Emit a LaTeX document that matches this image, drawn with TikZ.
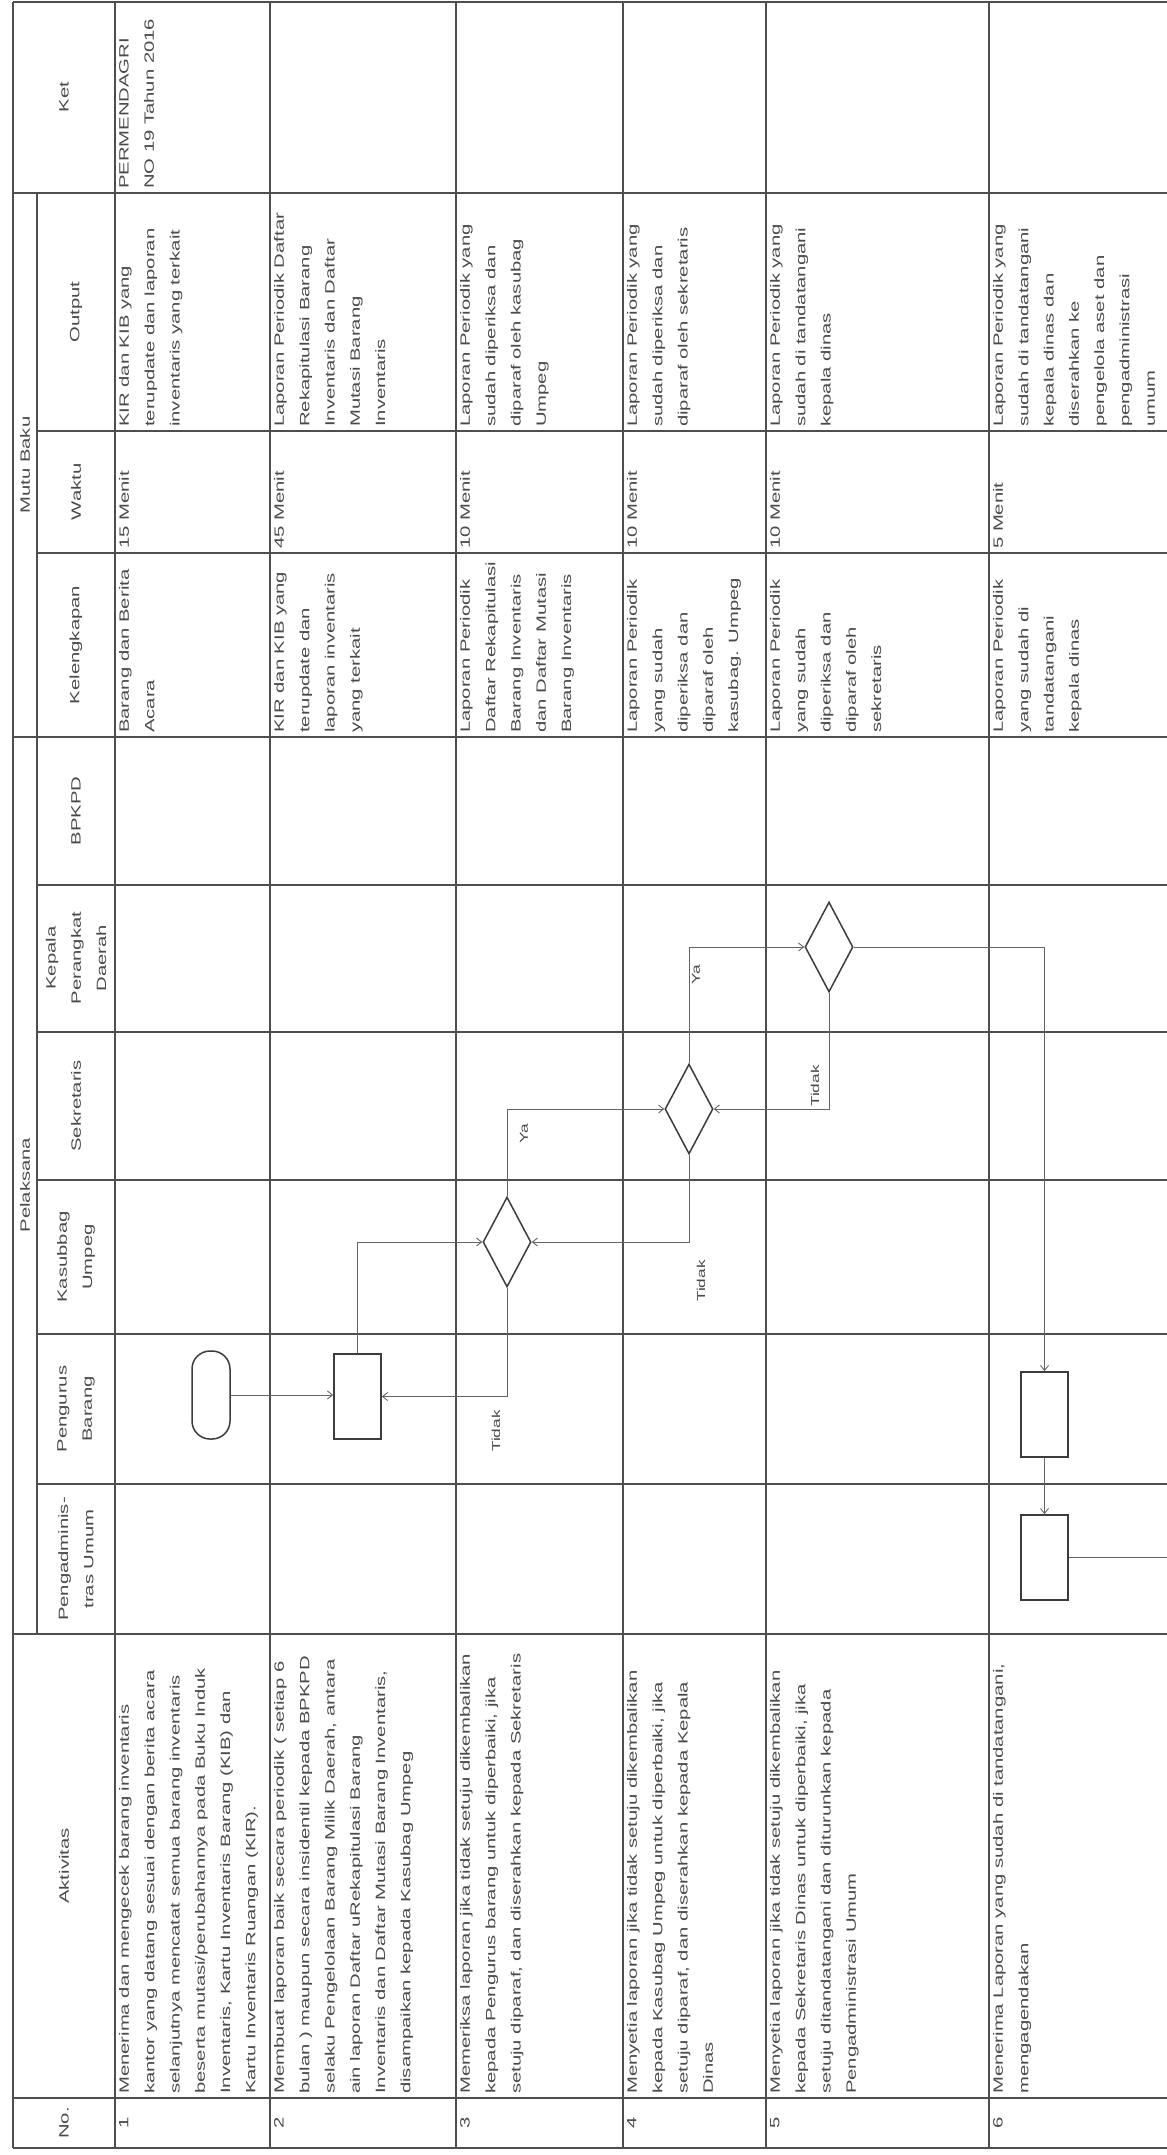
\documentclass[tikz,border=0pt]{standalone}
\usepackage{fontspec}
\usetikzlibrary{shapes.geometric,arrows.meta}
\newfontfamily\cellfam[FakeStretch=1.5]{Liberation Sans}
\definecolor{gridc}{HTML}{4E4E4E}
\definecolor{txtc}{HTML}{4A4A4A}
\definecolor{lnkc}{HTML}{646464}
\definecolor{shpc}{HTML}{3C3C3C}
\begin{document}
\begin{tikzpicture}[x=1pt,y=-1pt,
  tbl/.style={draw=gridc, line width=1.2pt},
  cell/.style={rotate=90, anchor=north west, inner sep=0pt, align=left, text=txtc, font={\cellfam\fontsize{13.5}{25.3}\selectfont}},
  num/.style={rotate=90, anchor=north, inner sep=0pt, text=txtc, font={\cellfam\fontsize{13.5}{25.3}\selectfont}},
  hdr/.style={rotate=90, anchor=center, inner sep=0pt, align=center, text=txtc, font={\cellfam\fontsize{13.5}{25.3}\selectfont}},
  lbl/.style={rotate=90, anchor=center, inner sep=0pt, text=txtc, font={\cellfam\fontsize{11.5}{14}\selectfont}},
  proc/.style={draw=shpc, line width=1.7pt, minimum width=47pt, minimum height=85pt, inner sep=0pt},
  termin/.style={draw=shpc, line width=1.5pt, rounded corners=18pt, minimum width=38pt, minimum height=88pt, inner sep=0pt},
  dec/.style={draw=shpc, line width=1.5pt, diamond, minimum width=48pt, minimum height=90pt, inner sep=0pt},
  conn/.style={draw=lnkc, line width=0.9pt, -{Straight Barb[length=5pt,width=8pt]}},
  plain/.style={draw=lnkc, line width=0.9pt}
]
\fill[white] (0,0) rectangle (1167,2155);
\useasboundingbox (0,0) rectangle (1167,2155);

% table grid
\draw[tbl] (13,2) -- (1167,2);
\draw[tbl] (13,2148) -- (1167,2148);
\foreach \yy in {193,737,1634,2098} {\draw[tbl] (13,\yy) -- (1167,\yy);}
\foreach \yy in {431,553,885,1032,1180,1334,1484} {\draw[tbl] (37,\yy) -- (1167,\yy);}
\foreach \xx in {13,115,270,456,623,766,989} {\draw[tbl] (\xx,2) -- (\xx,2148);}
\draw[tbl] (37,193) -- (37,1634);

% headers
\node[hdr] (hNo) at (64,2123) {No.};
\node[hdr] (hAkt) at (64,1866) {Aktivitas};
\node[hdr] (hPel) at (25,1185) {Pelaksana};
\node[hdr] (hPa) at (76,1559) {Pengadminis-\\tras Umum};
\node[hdr] (hPb) at (76,1409) {Pengurus\\Barang};
\node[hdr] (hKu) at (76,1257) {Kasubbag\\Umpeg};
\node[hdr] (hSk) at (76,1106) {Sekretaris};
\node[hdr] (hKp) at (76,958) {Kepala\\Perangkat\\Daerah};
\node[hdr] (hBp) at (76,811) {BPKPD};
\node[hdr] (hMb) at (25,465) {Mutu Baku};
\node[hdr] (hKl) at (76,645) {Kelengkapan};
\node[hdr] (hWk) at (76,492) {Waktu};
\node[hdr] (hOp) at (76,312) {Output};
\node[hdr] (hKt) at (64,97) {Ket};

% row 1
\node[num] (n1) at (119,2123) {1};
\node[cell] (a1) at (119,2094) {Menerima dan mengecek barang inventaris\\kantor yang datang sesuai dengan berita acara\\selanjutnya mencatat semua barang inventaris\\beserta mutasi/perubahannya pada Buku Induk\\Inventaris, Kartu Inventaris Barang (KIB) dan\\Kartu Inventaris Ruangan (KIR).};
\node[cell] (k1) at (119,733) {Barang dan Berita\\Acara};
\node[cell] (w1) at (119,549) {15 Menit};
\node[cell] (o1) at (119,427) {KIR dan KIB yang\\terupdate dan laporan\\inventaris yang terkait};
\node[cell] (t1) at (119,189) {PERMENDAGRI\\NO 19 Tahun 2016};

% row 2
\node[num] (n2) at (274,2123) {2};
\node[cell] (a2) at (274,2094) {Membuat laporan baik secara periodik ( setiap 6\\bulan ) maupun secara insidentil kepada BPKPD\\selaku Pengelolaan Barang Milik Daerah, antara\\ain laporan Daftar uRekapitulasi Barang\\Inventaris dan Daftar Mutasi Barang Inventaris,\\disampaikan kepada Kasubag Umpeg};
\node[cell] (k2) at (274,733) {KIR dan KIB yang\\terupdate dan\\laporan inventaris\\yang terkait};
\node[cell] (w2) at (274,549) {45 Menit};
\node[cell] (o2) at (274,427) {Laporan Periodik Daftar\\Rekapitulasi Barang\\Inventaris dan Daftar\\Mutasi Barang\\Inventaris};

% row 3
\node[num] (n3) at (460,2123) {3};
\node[cell] (a3) at (460,2094) {Memeriksa laporan jika tidak setuju dikembalikan\\kepada Pengurus barang untuk diperbaiki, jika\\setuju diparaf, dan diserahkan kepada Sekretaris};
\node[cell] (k3) at (460,733) {Laporan Periodik\\Daftar Rekapitulasi\\Barang Inventaris\\dan Daftar Mutasi\\Barang Inventaris};
\node[cell] (w3) at (460,549) {10 Menit};
\node[cell] (o3) at (460,427) {Laporan Periodik yang\\sudah diperiksa dan\\diparaf oleh kasubag\\Umpeg};

% row 4
\node[num] (n4) at (627,2123) {4};
\node[cell] (a4) at (627,2094) {Menyetia laporan jika tidak setuju dikembalikan\\kepada Kasubag Umpeg untuk diperbaiki, jika\\setuju diparaf, dan diserahkan kepada Kepala\\Dinas};
\node[cell] (k4) at (627,733) {Laporan Periodik\\yang sudah\\diperiksa dan\\diparaf oleh\\kasubag. Umpeg};
\node[cell] (w4) at (627,549) {10 Menit};
\node[cell] (o4) at (627,427) {Laporan Periodik yang\\sudah diperiksa dan\\diparaf oleh sekretaris};

% row 5
\node[num] (n5) at (770,2123) {5};
\node[cell] (a5) at (770,2094) {Menyetia laporan jika tidak setuju dikembalikan\\kepada Sekretaris Dinas untuk diperbaiki, jika\\setuju ditandatangani dan diturunkan kepada\\Pengadministrasi Umum};
\node[cell] (k5) at (770,733) {Laporan Periodik\\yang sudah\\diperiksa dan\\diparaf oleh\\sekretaris};
\node[cell] (w5) at (770,549) {10 Menit};
\node[cell] (o5) at (770,427) {Laporan Periodik yang\\sudah di tandatangani\\kepala dinas};

% row 6
\node[num] (n6) at (993,2123) {6};
\node[cell] (a6) at (993,2094) {Menerima Laporan yang sudah di tandatangani,\\mengagendakan};
\node[cell] (k6) at (993,733) {Laporan Periodik\\yang sudah di\\tandatangani\\kepala dinas};
\node[cell] (w6) at (993,549) {5 Menit};
\node[cell] (o6) at (993,427) {Laporan Periodik yang\\sudah di tandatangani\\kepala dinas dan\\diserahkan ke\\pengelola aset dan\\pengadministrasi\\umum};

% flow shapes
\node[termin] (st) at (211,1395) {};
\node[proc] (b2) at (357.5,1396.5) {};
\node[dec] (d1) at (507,1242) {};
\node[dec] (d2) at (689,1109) {};
\node[dec] (d3) at (829,947) {};
\node[proc] (b6p) at (1044.5,1414.5) {};
\node[proc] (b6a) at (1044.5,1557.5) {};
\coordinate (outc) at (1167,1557.5);

% connectors
\draw[conn] (st.east) -- (st.east -| b2.west);
\draw[conn] (b2.north) |- (d1.west);
\draw[conn] (d1.south) |- (b2.east);
\draw[conn] (d1.north) |- (d2.west);
\draw[conn] (d2.south) |- (d1.east);
\draw[conn] (d2.north) |- (d3.west);
\draw[conn] (d3.south) |- (d2.east);
\draw[conn] (d3.east) -| (b6p.north);
\draw[conn] (b6p.south) -- (b6a.north);
\draw[plain] (b6a.east) -- (outc);

% labels
\node[lbl] (l1) at (496,1431) {Tidak};
\node[lbl] (l2) at (524,1134) {Ya};
\node[lbl] (l3) at (701,1281) {Tidak};
\node[lbl] (l4) at (696,975) {Ya};
\node[lbl] (l5) at (815,1086) {Tidak};
\end{tikzpicture}
\end{document}
